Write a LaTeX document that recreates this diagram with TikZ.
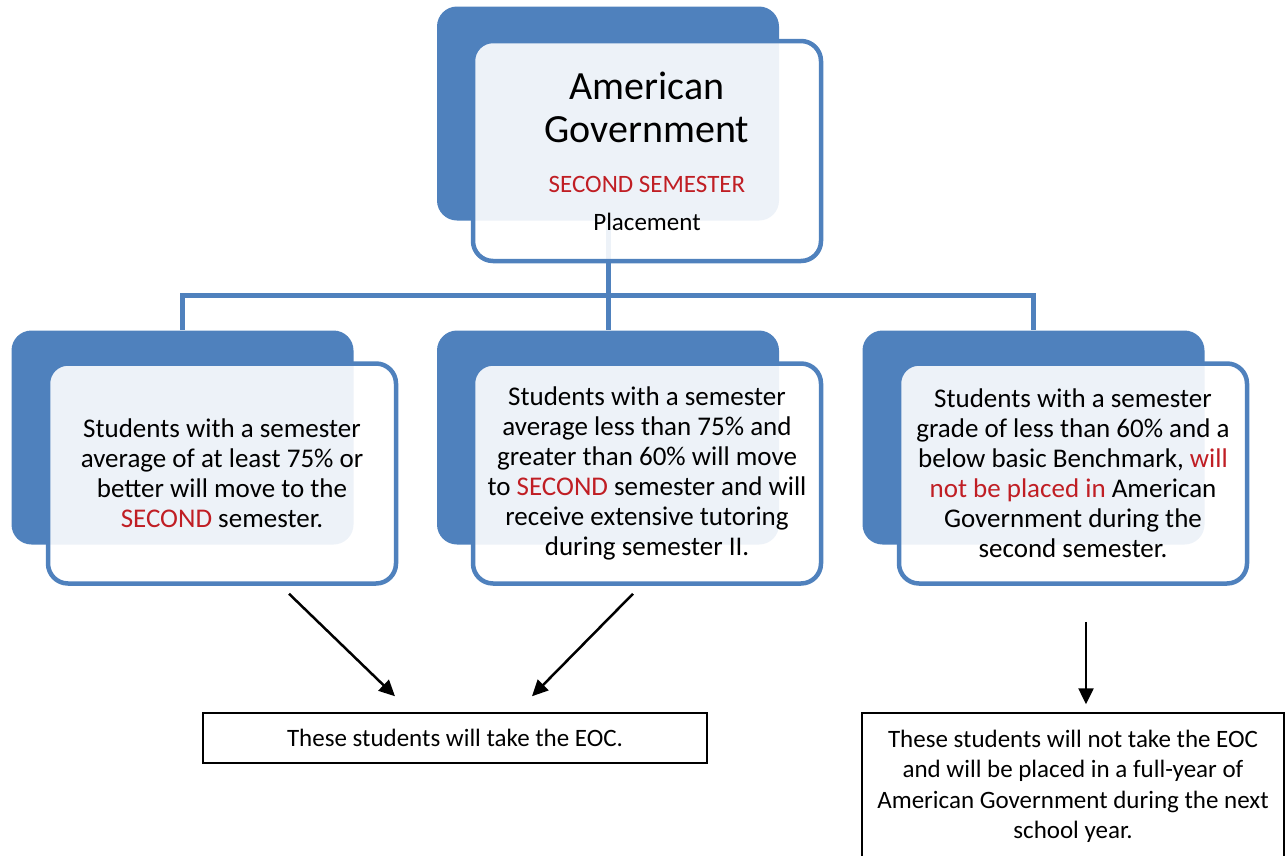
\documentclass[tikz,border=0pt]{standalone}
\usepackage{fontspec}
\setmainfont{Carlito}
\usepackage{xcolor}
\usetikzlibrary{arrows.meta}
\definecolor{officeblue}{RGB}{79,129,189}
\definecolor{alertred}{RGB}{192,30,36}
\newcommand{\hot}[1]{\textcolor{alertred}{#1}}

\begin{document}
\begin{tikzpicture}[x=1pt, y=-1pt,
  back/.style={fill=officeblue, rounded corners=20pt, minimum width=342pt, minimum height=214pt, inner sep=0pt},
  front/.style={draw=officeblue, line width=4.5pt, fill=white, fill opacity=0.9, text opacity=1, rounded corners=20pt,
    minimum width=348pt, minimum height=220pt, align=center, font=\fontsize{27}{30}\selectfont},
  link/.style={draw=officeblue, line width=5pt},
  arrow/.style={line width=2.5pt, -{Triangle[length=16pt,width=15pt]}},
  result/.style={draw, line width=1.5pt, align=center, inner sep=0pt, font=\fontsize{25}{30.5}\selectfont}]
  \useasboundingbox (0,0) rectangle (1286,855);
  \clip (0,0) rectangle (1286,855);

  \node[back] (topb) at (608,113.5) {};
  \node[back] (lb) at (182.5,437.5) {};
  \node[back] (mb) at (608,437.5) {};
  \node[back] (rb) at (1033.5,437.5) {};

  \draw[link] (topb.south) -- (mb.north);
  \draw[link] (topb.south) ++(0,75) -| (lb.north);
  \draw[link] (topb.south) ++(0,75) -| (rb.north);

  \node[front] (topf) at (647,151) {\begin{minipage}{320pt}\centering
    \fontsize{40}{43}\selectfont American\\Government\par
    \vspace{12pt}\fontsize{25}{38}\selectfont\hot{SECOND SEMESTER}\\Placement\par
    \end{minipage}};
  \node[front] (lf) at (222,473.5) {Students with a semester\\average of at least 75\% or\\better will move to the\\\hot{SECOND} semester.};
  \node[front] (mf) at (647,473.5) {Students with a semester\\average less than 75\% and\\greater than 60\% will move\\to \hot{SECOND} semester and will\\receive extensive tutoring\\during semester II.};
  \node[front] (rf) at (1073,473.5) {Students with a semester\\grade of less than 60\% and a\\below basic Benchmark, \hot{will}\\\hot{not be placed in} American\\Government during the\\second semester.};

  \node[result, minimum width=504pt, minimum height=50pt] (eoc) at (455,738) {These students will take the EOC.};
  \node[result, minimum width=422pt, minimum height=147pt] (noeoc) at (1073,786.5) {These students will not take the EOC\\and will be placed in a full-year of\\American Government during the next\\school year.};

  \draw[arrow] ([xshift=67pt,yshift=-8pt]lf.south) -- ([xshift=-60pt,yshift=16pt]eoc.north);
  \draw[arrow] ([xshift=-14pt,yshift=-8pt]mf.south) -- ([xshift=77pt,yshift=16pt]eoc.north);
  \draw[arrow] ([xshift=13pt,yshift=-36pt]rf.south) -- ([xshift=13pt,yshift=8pt]noeoc.north);
\end{tikzpicture}
\end{document}
